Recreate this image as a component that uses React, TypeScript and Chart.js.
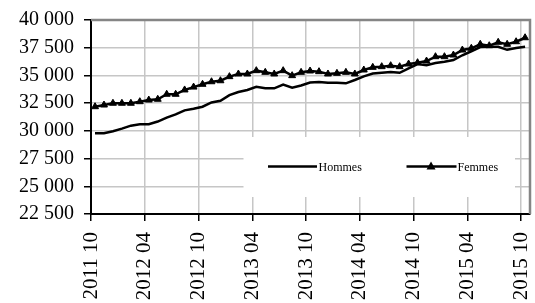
import React, { useEffect, useRef } from "react";
import { Chart, registerables } from "chart.js";

Chart.register(...registerables);

// Monthly series, 2011 10 .. 2015 10
const hommes = [29780, 29780, 29970, 30200, 30470, 30590, 30590, 30840, 31190, 31480, 31850, 32000, 32180, 32560, 32720, 33220, 33500, 33690, 33980, 33840, 33840, 34180, 33890, 34090, 34360, 34410, 34340, 34340, 34290, 34590, 34920, 35170, 35240, 35310, 35240, 35630, 36030, 35920, 36120, 36240, 36390, 36820, 37180, 37560, 37590, 37590, 37310, 37470, 37590];
const femmes = [32180, 32330, 32490, 32490, 32490, 32630, 32780, 32850, 33300, 33300, 33690, 33950, 34200, 34430, 34520, 34890, 35130, 35130, 35430, 35280, 35130, 35430, 34980, 35280, 35400, 35340, 35130, 35190, 35280, 35130, 35490, 35730, 35790, 35880, 35790, 36030, 36150, 36300, 36690, 36690, 36840, 37290, 37450, 37810, 37680, 37990, 37810, 38040, 38400];
const xTickLabels = ["2011 10", "2012 04", "2012 10", "2013 04", "2013 10", "2014 04", "2014 10", "2015 04", "2015 10"];
const seriesNames = ["Hommes", "Femmes"];
const MONTHS_PER_TICK = 6;
const MID_MONTH = 0.45; // data dated mid-month on a date axis
const Y_MIN = 22500;
const Y_MAX = 40000;
const Y_STEP = 2500;

const FONT = "'Liberation Serif', 'Times New Roman', serif";

function fmt(v: number) {
  const th = Math.floor(v / 1000);
  const rest = String(Math.round(v % 1000)).padStart(3, "0");
  return th + " " + rest;
}

const insideLegend = {
  id: "insideLegend",
  beforeDatasetsDraw(chart: any) {
    const { ctx, chartArea: ca } = chart;
    const left = ca.left + 152.5;
    const right = ca.right - 15;
    const top = ca.top + 117;
    const bottom = ca.top + 177;
    ctx.save();
    ctx.fillStyle = "#ffffff";
    ctx.fillRect(left, top, right - left, bottom - top);
    const cy = top + 29.5;
    ctx.strokeStyle = "#000";
    ctx.lineWidth = 2.5;
    ctx.font = `12px ${FONT}`;
    ctx.fillStyle = "#000";
    ctx.textBaseline = "middle";
    // Hommes
    ctx.beginPath();
    ctx.moveTo(left + 24.5, cy);
    ctx.lineTo(left + 73.5, cy);
    ctx.stroke();
    ctx.fillText(seriesNames[0], left + 75, cy + 1);
    // Femmes
    ctx.beginPath();
    ctx.moveTo(left + 163, cy);
    ctx.lineTo(left + 213, cy);
    ctx.stroke();
    const mx = left + 187.5;
    ctx.beginPath();
    ctx.moveTo(mx, cy - 5);
    ctx.lineTo(mx + 4.5, cy + 3);
    ctx.lineTo(mx - 4.5, cy + 3);
    ctx.closePath();
    ctx.fill();
    ctx.fillText(seriesNames[1], left + 214, cy + 1);
    ctx.restore();
  },
  afterDraw(chart: any) {
    const { ctx, chartArea: ca } = chart;
    ctx.save();
    ctx.strokeStyle = "#858585";
    ctx.lineWidth = 2.5;
    ctx.beginPath();
    ctx.moveTo(ca.left, ca.top);
    ctx.lineTo(ca.right, ca.top);
    ctx.lineTo(ca.right, ca.bottom);
    ctx.stroke();
    ctx.restore();
  },
};

export default function App() {
  const ref = useRef<HTMLCanvasElement>(null);
  useEffect(() => {
    if (!ref.current) return;
    const chart = new Chart(ref.current, {
      type: "line",
      data: {
        datasets: [
          {
            label: seriesNames[0],
            data: hommes.map((v, i) => ({ x: i + MID_MONTH, y: v })),
            borderColor: "#000",
            backgroundColor: "#000",
            borderWidth: 2.5,
            pointRadius: 0,
            tension: 0,
          },
          {
            label: seriesNames[1],
            data: femmes.map((v, i) => ({ x: i + MID_MONTH, y: v })),
            borderColor: "#000",
            backgroundColor: "#000",
            borderWidth: 2.5,
            pointStyle: "triangle",
            pointRadius: 4,
            pointBorderWidth: 1,
            tension: 0,
          },
        ],
      },
      options: {
        animation: false,
        responsive: false,
        maintainAspectRatio: false,
        layout: { padding: { top: 20, right: 2, left: 0, bottom: 0 } },
        plugins: { legend: { display: false }, tooltip: { enabled: false } },
        scales: {
          x: {
            type: "linear",
            min: 0,
            max: (xTickLabels.length - 1) * MONTHS_PER_TICK + 1,
            afterBuildTicks: (scale: any) => {
              scale.ticks = xTickLabels.map((_, k) => ({ value: k * MONTHS_PER_TICK }));
            },
            afterFit: (scale: any) => {
              scale.height = 89;
              scale.paddingLeft = 0;
              scale.paddingRight = 0;
            },
            ticks: {
              stepSize: MONTHS_PER_TICK,
              autoSkip: false,
              minRotation: 90,
              maxRotation: 90,
              padding: 11,
              color: "#000",
              font: { family: FONT, size: 21 },
              callback: (v: any) => xTickLabels[Math.round(v / MONTHS_PER_TICK)] ?? "",
            },
            grid: { color: "#c6c6c6", lineWidth: 1.5, tickColor: "#000", tickLength: 7, tickWidth: 1.5 },
            border: { color: "#000", width: 2 },
          },
          y: {
            min: Y_MIN,
            max: Y_MAX,
            afterFit: (scale: any) => {
              scale.width = 91;
              scale.paddingTop = 0;
              scale.paddingBottom = 0;
            },
            ticks: {
              stepSize: Y_STEP,
              padding: 10,
              color: "#000",
              font: { family: FONT, size: 20 },
              callback: (v: any) => fmt(Number(v)),
            },
            grid: { color: "#c6c6c6", lineWidth: 1.5, tickColor: "#000", tickLength: 7, tickWidth: 1.5 },
            border: { color: "#000", width: 2 },
          },
        },
      },
      plugins: [insideLegend],
    });
    return () => chart.destroy();
  }, []);
  return (
    <div style={{ position: "fixed", left: 0, top: 0, width: 535, height: 303, background: "#fff" }}>
      <canvas ref={ref} width={535} height={303} />
    </div>
  );
}
